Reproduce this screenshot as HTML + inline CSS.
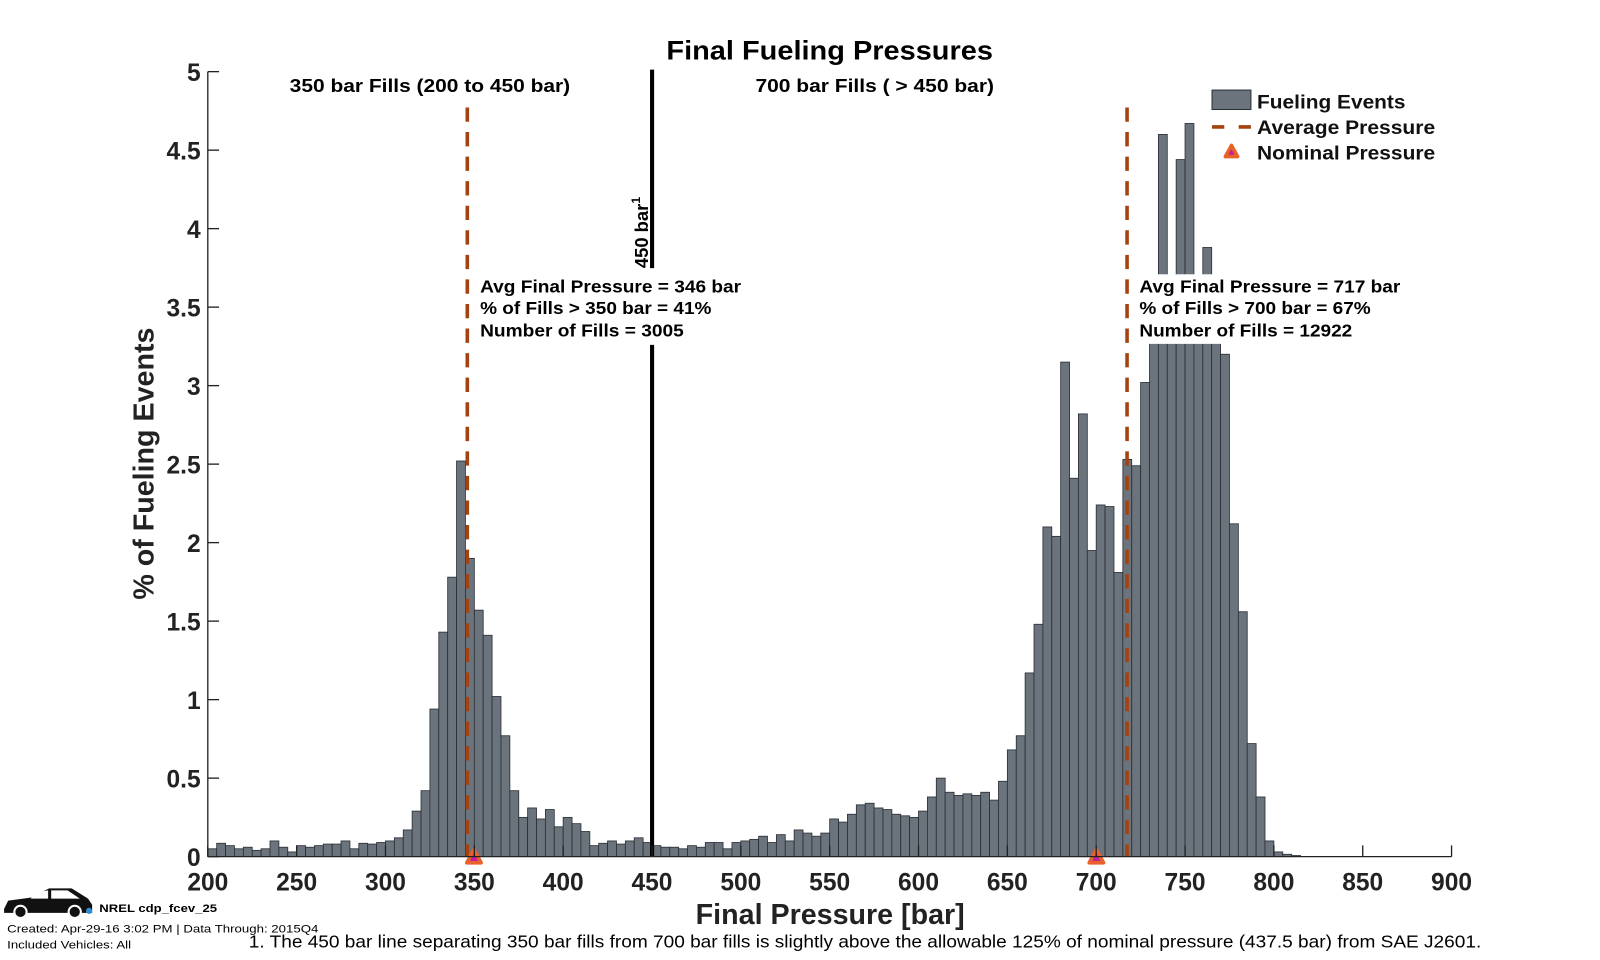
<!DOCTYPE html>
<html><head><meta charset="utf-8"><style>
html,body{margin:0;padding:0;background:#fff;}
svg{display:block;font-family:"Liberation Sans",Arial,sans-serif;}
</style></head><body>
<svg id="s" width="1600" height="960" viewBox="0 0 1563 938" preserveAspectRatio="none" xmlns="http://www.w3.org/2000/svg">
<rect width="1563" height="938" fill="#fff"/>
<g id="bars"></g>
<line x1="637" y1="68" x2="637" y2="262" stroke="#000" stroke-width="4"/>
<line x1="637" y1="337" x2="637" y2="837" stroke="#000" stroke-width="4"/>
<text transform="translate(633,262) rotate(-90)" font-size="18" font-weight="bold">450 bar<tspan dy="-8" font-size="12">1</tspan></text>
<line x1="456.5" y1="105" x2="456.5" y2="837" stroke="#a4430f" stroke-width="3.5" stroke-dasharray="14,10"/>
<line x1="1101" y1="105" x2="1101" y2="837" stroke="#a4430f" stroke-width="3.5" stroke-dasharray="14,10"/>
<rect x="466" y="268" width="262" height="68" fill="#fff"/>
<g font-size="17" font-weight="bold" fill="#000" lengthAdjust="spacingAndGlyphs">
<text x="469" y="286" textLength="255" lengthAdjust="spacingAndGlyphs">Avg Final Pressure = 346 bar</text>
<text x="469" y="307" textLength="226" lengthAdjust="spacingAndGlyphs">% of Fills &gt; 350 bar = 41%</text>
<text x="469" y="329" textLength="199" lengthAdjust="spacingAndGlyphs">Number of Fills = 3005</text>
</g>
<rect x="1110" y="268" width="262" height="68" fill="#fff"/>
<g font-size="17" font-weight="bold" fill="#000">
<text x="1113" y="286" textLength="255" lengthAdjust="spacingAndGlyphs">Avg Final Pressure = 717 bar</text>
<text x="1113" y="307" textLength="226" lengthAdjust="spacingAndGlyphs">% of Fills &gt; 700 bar = 67%</text>
<text x="1113" y="329" textLength="208" lengthAdjust="spacingAndGlyphs">Number of Fills = 12922</text>
</g>
<polygon points="456,843 463,830 470,843" fill="#c0219c" stroke="#e8622c" stroke-width="3.5" stroke-linejoin="round"/>
<polygon points="1064,843 1071,830 1078,843" fill="#c0219c" stroke="#e8622c" stroke-width="3.5" stroke-linejoin="round"/>
<g id="axes" stroke="#222" stroke-width="1.3"></g>
<g id="labels" font-size="24" font-weight="bold" fill="#222"></g>
<text x="651" y="58" font-size="26" font-weight="bold" textLength="319" lengthAdjust="spacingAndGlyphs">Final Fueling Pressures</text>
<text x="283" y="90" font-size="18" font-weight="bold" textLength="274" lengthAdjust="spacingAndGlyphs">350 bar Fills (200 to 450 bar)</text>
<text x="738" y="90" font-size="18" font-weight="bold" textLength="233" lengthAdjust="spacingAndGlyphs">700 bar Fills ( &gt; 450 bar)</text>
<text x="811" y="903" font-size="28" font-weight="bold" text-anchor="middle" fill="#222">Final Pressure [bar]</text>
<text transform="translate(150,453) rotate(-90)" font-size="28" font-weight="bold" text-anchor="middle" fill="#222">% of Fueling Events</text>
<rect x="1184" y="88" width="38" height="19" fill="#6b737c" stroke="#2a2f36" stroke-width="1"/>
<line x1="1184" y1="124" x2="1224" y2="124" stroke="#a4430f" stroke-width="3.5" stroke-dasharray="12,14"/>
<polygon points="1197,153 1203,142 1209,153" fill="#c0219c" stroke="#e8622c" stroke-width="3.5" stroke-linejoin="round"/>
<g font-size="19" font-weight="bold" fill="#111">
<text x="1228" y="106" textLength="145" lengthAdjust="spacingAndGlyphs">Fueling Events</text>
<text x="1228" y="131" textLength="174" lengthAdjust="spacingAndGlyphs">Average Pressure</text>
<text x="1228" y="156" textLength="174" lengthAdjust="spacingAndGlyphs">Nominal Pressure</text>
</g>
<path d="M4,888 L8,880 L30,877 L48,868 L70,868 L86,878 L90,884 L90,892 L4,892 Z" fill="#111"/>
<circle cx="20" cy="891" r="6" fill="#111" stroke="#fff" stroke-width="2"/>
<circle cx="73" cy="891" r="6" fill="#111" stroke="#fff" stroke-width="2"/>
<path d="M34,872 L47,870 L47,878 L30,878 Z M50,870 L66,870 L78,878 L50,878 Z" fill="#fff"/>
<circle cx="87" cy="890" r="3" fill="#2a8fd6"/>
<text x="97" y="891" font-size="11" font-weight="bold" textLength="115" lengthAdjust="spacingAndGlyphs">NREL cdp_fcev_25</text>
<text x="7" y="911" font-size="11" textLength="304" lengthAdjust="spacingAndGlyphs">Created: Apr-29-16  3:02 PM | Data Through: 2015Q4</text>
<text x="7" y="927" font-size="11" textLength="121" lengthAdjust="spacingAndGlyphs">Included Vehicles: All</text>
<text x="243" y="926" font-size="17" textLength="1204" lengthAdjust="spacingAndGlyphs">1. The 450 bar line separating 350 bar fills from 700 bar fills is slightly above the allowable 125% of nominal pressure (437.5 bar) from SAE J2601.</text>
</svg>
<script>
var v=[.05,.085,.07,.05,.06,.04,.05,.1,.06,.03,.07,.06,.07,.08,.08,.1,.05,.085,.08,.09,.1,.12,.17,.29,.42,.94,1.43,1.78,2.52,1.9,1.57,1.41,1.02,.77,.42,.25,.31,.24,.3,.19,.25,.21,.16,.07,.085,.1,.08,.1,.12,.09,
.07,.06,.06,.05,.07,.06,.09,.09,.05,.09,.1,.11,.13,.09,.14,.1,.17,.15,.13,.15,.24,.22,.27,.33,.34,.31,.3,.27,.26,.25,.29,.38,.5,.41,.39,.4,.39,.41,.36,.48,.68,.77,1.17,1.48,2.1,2.04,3.15,2.41,2.82,1.95,2.24,2.23,1.81,2.53,2.49,3.02,3.3,4.6,3.7,4.44,4.67,3.6,3.88,3.4,3.2,2.12,1.56,.72,.38,.1,.03,.015,.007];
var ns="http://www.w3.org/2000/svg",g=document.getElementById("bars"),k=1.7357,s=153.4;
for(var i=0;i<v.length;i++){var r=document.createElementNS(ns,"rect");var x=203+i*5*k,h=v[i]*s;
r.setAttribute("x",x);r.setAttribute("y",837-h);r.setAttribute("width",5*k);r.setAttribute("height",h);
r.setAttribute("fill","#6b737c");r.setAttribute("stroke","#2a2f36");r.setAttribute("stroke-width","0.8");g.appendChild(r);}
var a=document.getElementById("axes"),L=document.getElementById("labels");
function ln(x1,y1,x2,y2){var l=document.createElementNS(ns,"line");l.setAttribute("x1",x1);l.setAttribute("y1",y1);l.setAttribute("x2",x2);l.setAttribute("y2",y2);a.appendChild(l);}
function tx(x,y,t,an){var e=document.createElementNS(ns,"text");e.setAttribute("x",x);e.setAttribute("y",y);e.setAttribute("text-anchor",an);e.textContent=t;L.appendChild(e);}
ln(203,70,203,837);ln(203,837,1418,837);
for(var b=200;b<=900;b+=50){var x=203+(b-200)*k;ln(x,837,x,826);tx(x,870,b,"middle");}
for(var j=0;j<=10;j++){var y=837-j*0.5*s;ln(203,y,214,y);tx(196,y+9,(j*0.5).toString(),"end");}
</script>
</body></html>
